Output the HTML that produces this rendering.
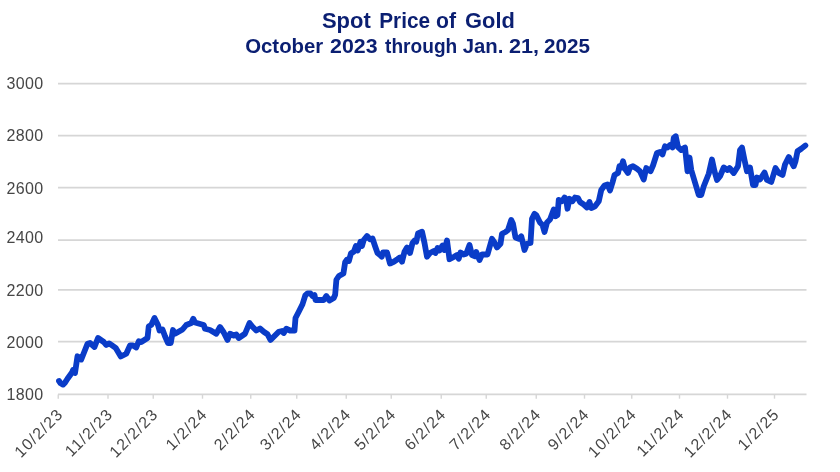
<!DOCTYPE html>
<html><head><meta charset="utf-8"><title>Spot Price of Gold</title>
<style>
html,body{margin:0;padding:0;background:#fff;}
body{width:840px;height:472px;overflow:hidden;font-family:"Liberation Sans",sans-serif;}
svg{display:block;will-change:transform;}
svg text{font-family:"Liberation Sans",sans-serif;}
.w{font-weight:bold;fill:#0b1f72;}
.y{font-size:16px;fill:#464646;text-anchor:end;letter-spacing:0.4px;}
.x{font-size:16px;fill:#464646;text-anchor:end;letter-spacing:1.1px;}
</style></head><body>
<svg width="840" height="472" viewBox="0 0 840 472">
<rect width="840" height="472" fill="#fff"/>
<text class="w" x="321.92" y="27.5" font-size="22" textLength="48.84" lengthAdjust="spacingAndGlyphs">Spot</text>
<text class="w" x="379.2" y="27.5" font-size="22" textLength="50.82" lengthAdjust="spacingAndGlyphs">Price</text>
<text class="w" x="436.06" y="27.5" font-size="22" textLength="20" lengthAdjust="spacingAndGlyphs">of</text>
<text class="w" x="465.06" y="27.5" font-size="22" textLength="49.76" lengthAdjust="spacingAndGlyphs">Gold</text>
<text class="w" x="245.2" y="53.1" font-size="21" textLength="78.1" lengthAdjust="spacingAndGlyphs">October</text>
<text class="w" x="330.14" y="53.1" font-size="21" textLength="47.47" lengthAdjust="spacingAndGlyphs">2023</text>
<text class="w" x="385.08" y="53.1" font-size="21" textLength="72.14" lengthAdjust="spacingAndGlyphs">through</text>
<text class="w" x="462.78" y="53.1" font-size="21" textLength="40.66" lengthAdjust="spacingAndGlyphs">Jan.</text>
<text class="w" x="509.14" y="53.1" font-size="21" textLength="29.98" lengthAdjust="spacingAndGlyphs">21,</text>
<text class="w" x="544" y="53.1" font-size="21" textLength="46" lengthAdjust="spacingAndGlyphs">2025</text>
<line x1="58" x2="806.5" y1="83.6" y2="83.6" stroke="#d6d6d6" stroke-width="1.8"/>
<text class="y" x="43.6" y="88.85">3000</text>
<line x1="58" x2="806.5" y1="135.6" y2="135.6" stroke="#d6d6d6" stroke-width="1.8"/>
<text class="y" x="43.6" y="141.25">2800</text>
<line x1="58" x2="806.5" y1="187.7" y2="187.7" stroke="#d6d6d6" stroke-width="1.8"/>
<text class="y" x="43.6" y="193.75">2600</text>
<line x1="58" x2="806.5" y1="240.1" y2="240.1" stroke="#d6d6d6" stroke-width="1.8"/>
<text class="y" x="43.6" y="243.45">2400</text>
<line x1="58" x2="806.5" y1="289.9" y2="289.9" stroke="#d6d6d6" stroke-width="1.8"/>
<text class="y" x="43.6" y="295.75">2200</text>
<line x1="58" x2="806.5" y1="341.6" y2="341.6" stroke="#d6d6d6" stroke-width="1.8"/>
<text class="y" x="43.6" y="348.25">2000</text>
<line x1="58" x2="806.5" y1="394.4" y2="394.4" stroke="#d6d6d6" stroke-width="1.8"/>
<text class="y" x="43.6" y="399.85">1800</text>
<line x1="58.25" x2="58.25" y1="394.4" y2="398.7" stroke="#d6d6d6" stroke-width="1.4"/>
<text class="x" transform="translate(64.15,415.2) rotate(-45)">10/2/23</text>
<line x1="108" x2="108" y1="394.4" y2="398.7" stroke="#d6d6d6" stroke-width="1.4"/>
<text class="x" transform="translate(113.9,415.2) rotate(-45)">11/2/23</text>
<line x1="153.25" x2="153.25" y1="394.4" y2="398.7" stroke="#d6d6d6" stroke-width="1.4"/>
<text class="x" transform="translate(159.15,415.2) rotate(-45)">12/2/23</text>
<line x1="202.5" x2="202.5" y1="394.4" y2="398.7" stroke="#d6d6d6" stroke-width="1.4"/>
<text class="x" transform="translate(208.4,415.2) rotate(-45)">1/2/24</text>
<line x1="250.75" x2="250.75" y1="394.4" y2="398.7" stroke="#d6d6d6" stroke-width="1.4"/>
<text class="x" transform="translate(256.65,415.2) rotate(-45)">2/2/24</text>
<line x1="296.75" x2="296.75" y1="394.4" y2="398.7" stroke="#d6d6d6" stroke-width="1.4"/>
<text class="x" transform="translate(302.65,415.2) rotate(-45)">3/2/24</text>
<line x1="346.25" x2="346.25" y1="394.4" y2="398.7" stroke="#d6d6d6" stroke-width="1.4"/>
<text class="x" transform="translate(352.15,415.2) rotate(-45)">4/2/24</text>
<line x1="391.25" x2="391.25" y1="394.4" y2="398.7" stroke="#d6d6d6" stroke-width="1.4"/>
<text class="x" transform="translate(397.15,415.2) rotate(-45)">5/2/24</text>
<line x1="441.25" x2="441.25" y1="394.4" y2="398.7" stroke="#d6d6d6" stroke-width="1.4"/>
<text class="x" transform="translate(447.15,415.2) rotate(-45)">6/2/24</text>
<line x1="486.25" x2="486.25" y1="394.4" y2="398.7" stroke="#d6d6d6" stroke-width="1.4"/>
<text class="x" transform="translate(492.15,415.2) rotate(-45)">7/2/24</text>
<line x1="536.25" x2="536.25" y1="394.4" y2="398.7" stroke="#d6d6d6" stroke-width="1.4"/>
<text class="x" transform="translate(542.15,415.2) rotate(-45)">8/2/24</text>
<line x1="584.5" x2="584.5" y1="394.4" y2="398.7" stroke="#d6d6d6" stroke-width="1.4"/>
<text class="x" transform="translate(590.4,415.2) rotate(-45)">9/2/24</text>
<line x1="631.75" x2="631.75" y1="394.4" y2="398.7" stroke="#d6d6d6" stroke-width="1.4"/>
<text class="x" transform="translate(637.65,415.2) rotate(-45)">10/2/24</text>
<line x1="679.5" x2="679.5" y1="394.4" y2="398.7" stroke="#d6d6d6" stroke-width="1.4"/>
<text class="x" transform="translate(685.4,415.2) rotate(-45)">11/2/24</text>
<line x1="727.5" x2="727.5" y1="394.4" y2="398.7" stroke="#d6d6d6" stroke-width="1.4"/>
<text class="x" transform="translate(733.4,415.2) rotate(-45)">12/2/24</text>
<line x1="774.5" x2="774.5" y1="394.4" y2="398.7" stroke="#d6d6d6" stroke-width="1.4"/>
<text class="x" transform="translate(780.4,415.2) rotate(-45)">1/2/25</text>
<polyline fill="none" stroke="#0a3cc8" stroke-width="5.8" stroke-linejoin="round" stroke-linecap="round" points="59,381 60.6,383.3 63,384.6 65,382.6 67.5,378.75 72,372.5 73,370 75,373 77.5,356.25 81.25,359.5 87.5,343.75 90,343 94.5,347 98,338 103.75,342 106.2,345 109.2,343.4 115.6,347.8 120.8,356.5 126.25,353.75 130,345.5 133,345.5 136.25,347.5 138.75,341.25 141.25,342 147.5,338 148.75,326.25 151.25,325 154.5,318 158,325 159.5,330.5 162.5,329.5 165,336.25 168,343 170.75,343 173,330 175,333.75 182.5,329.5 186.25,325 191.25,323 193.25,318.75 195,322.5 203.75,325 205,328.75 210,330 216.25,333.75 220,327 223.75,332.5 227.5,340 230,333.75 233.75,335.5 236.25,334.5 238.75,338 245,333.75 249.5,323 252.5,326.75 256.25,330.5 260,328.5 263.75,331.75 267.5,334.25 270.5,340 275,335.5 278.75,331.75 282,331 283.75,333 286.25,328.75 290,330.5 294.5,330.5 295.5,318 298.75,311.75 302.5,304.25 305.3,295.4 307.5,293.4 310.5,293.4 312.5,296 314.5,295 315.5,300 323.75,300 326.25,296 329.5,300.5 333.75,298 335.15,294.75 336.4,279.75 338.9,276 343.4,273.5 345.15,262.25 346.9,259.75 348.9,261 350.9,253.5 353.9,251.5 355.9,246 357.65,250.5 360.5,241.75 362,246 363.75,240 367,236 370,239.25 372.5,238.5 375,246 377.5,253 380,255 381.75,256.75 383,252.5 387,252.5 390,263.5 393.75,261.75 397.5,259.25 400,257.5 402,261.75 404.5,251.75 407,247.5 410,253 412.5,243 414.5,240.5 416.25,241.75 418,233.5 422,231.75 424.5,243 427,256.75 430,253 433.75,251 435.5,253 437.5,248 439.5,250.5 442.5,245.5 444.5,250 447,240.5 449.5,259.25 453.75,257 457,255 458.75,258.75 460.5,252.5 463.75,254.5 466.25,253.75 469.5,245 472,255 475,256.25 476.25,252 479.5,260 482,254.5 487.5,254.5 492,238.75 494.5,242.5 497,247.5 500.5,243.75 502,233.75 505.5,232 508,230 511.25,220 513,223.75 515.5,237.5 518.75,238.75 521.25,236.25 524.5,250 527,243.75 530.5,243 532,218.75 534.5,213.75 536.25,215 540,222.5 542.5,225 544.5,232 547,222.5 550,219.5 553.75,209.5 555.5,216.25 557.5,215 558.75,200 562,201.25 564.5,197.5 566.25,200 567.5,208.75 569.5,198.75 572.5,201.25 575,197.5 578,198 580,202 583.75,204.5 587,207.5 589.5,202 591.25,208 595,206.25 598.75,201.25 601.25,190 604.5,185.5 607.5,184.5 610,190.5 612.5,182.5 614.5,175 618,173 619.5,166.25 621.25,167.5 623,161.25 625,168.75 628,173 630,167.5 633,166.25 637,168.75 640,171.25 643.75,179.5 646.25,168 650.5,171.25 653,165.5 657,153 660,152 662.5,154.5 665,146.25 667.5,147.5 670,145 672.5,147.5 673.75,138 675.75,136.25 678,147 681.25,150 685,147.5 687.5,171.25 689.5,157.5 691.25,170 695,182.5 698.75,195 701.25,195 703.75,186.25 708.75,173.75 712,159.5 714.5,171.25 717,180 720,176.25 723.75,167.5 727.5,170 729.5,168 733.75,173 738,166.25 740,150 742,147.5 744.5,160 747,171.25 750,167.5 753,185 755.5,185 757,177.5 760,179.5 764.5,172.5 767,180 771.25,182 775.5,168 778.75,173 782.5,175 785,164.5 788.75,157 793.75,166.25 795.5,161.25 797.5,151.25 801.25,148.75 805.4,145.5"/>
</svg>
</body></html>
